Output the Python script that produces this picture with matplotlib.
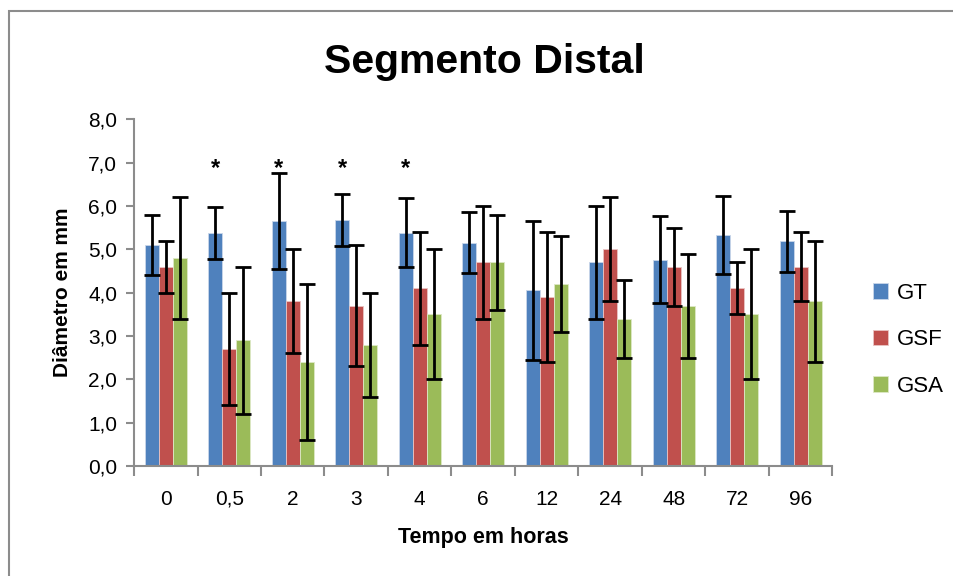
import numpy as np
import matplotlib.pyplot as plt
from matplotlib.patches import Rectangle
from matplotlib.ticker import FuncFormatter

# data
times = ['0', '0,5', '2', '3', '4', '6', '12', '24', '48', '72', '96']
gt = [5.1, 5.37, 5.65, 5.67, 5.38, 5.15, 4.05, 4.7, 4.76, 5.32, 5.18]
gt_err = [0.7, 0.6, 1.1, 0.6, 0.8, 0.7, 1.6, 1.3, 1.0, 0.9, 0.7]
gsf = [4.6, 2.7, 3.8, 3.7, 4.1, 4.7, 3.9, 5.0, 4.6, 4.1, 4.6]
gsf_err = [0.6, 1.3, 1.2, 1.4, 1.3, 1.3, 1.5, 1.2, 0.9, 0.6, 0.8]
gsa = [4.8, 2.9, 2.4, 2.8, 3.5, 4.7, 4.2, 3.4, 3.7, 3.5, 3.8]
gsa_err = [1.4, 1.7, 1.8, 1.2, 1.5, 1.1, 1.1, 0.9, 1.2, 1.5, 1.4]
signif = ['0,5', '2', '3', '4']

plt.rcParams['font.family'] = ['Liberation Sans Narrow', 'Liberation Sans', 'DejaVu Sans']

fig = plt.figure(figsize=(9.54, 5.76), dpi=100)
ax = fig.add_axes([0.1405, 0.191, 0.732, 0.602])

x = np.arange(len(times))
w = 0.22
grey = '#8c8c8c'
ekw = dict(elinewidth=2, capthick=2, capsize=5.5, ecolor='black')
ax.bar(x - w, gt, w, yerr=gt_err, color='#4F81BD', edgecolor='#c9d6ea', linewidth=0.6, label='GT', error_kw=ekw)
ax.bar(x, gsf, w, yerr=gsf_err, color='#C0504D', edgecolor='#e9c4c3', linewidth=0.6, label='GSF', error_kw=ekw)
ax.bar(x + w, gsa, w, yerr=gsa_err, color='#9BBB59', edgecolor='#dde8c6', linewidth=0.6, label='GSA', error_kw=ekw)

for t in signif:
    i = times.index(t)
    ax.text(i - w, 6.72, '*', ha='center', va='baseline', fontsize=17, fontweight='bold')

ax.set_xlim(-0.5, len(times) - 0.5)
ax.set_ylim(0, 8)
ax.set_yticks(np.arange(0, 8.1, 1))
ax.yaxis.set_major_formatter(FuncFormatter(lambda v, p: f'{v:.1f}'.replace('.', ',')))
ax.set_xticks(x)
ax.set_xticklabels(times)
ax.set_xticks(np.arange(-0.5, len(times), 1), minor=True)
ax.tick_params(axis='x', which='major', length=0, pad=17, labelsize=15)
ax.tick_params(axis='x', which='minor', length=7, width=1.5, color=grey)
ax.tick_params(axis='y', length=6, width=1.5, color=grey, labelsize=15, pad=6)

for s in ['top', 'right']:
    ax.spines[s].set_visible(False)
for s in ['left', 'bottom']:
    ax.spines[s].set_color(grey)
    ax.spines[s].set_linewidth(1.5)

ax.set_xlabel('Tempo em horas', fontsize=15.5, fontweight='bold', labelpad=13)
ax.set_ylabel('Diâmetro em mm', fontsize=15, fontweight='bold', labelpad=12)
fig.text(0.508, 0.893, 'Segmento Distal', ha='center', va='center', fontsize=29.5, fontweight='bold')

fig.legend(loc='center left', bbox_to_anchor=(0.894, 0.41), frameon=False, fontsize=16,
           handlelength=0.7, handleheight=0.7, handletextpad=0.4, labelspacing=1.15)

fig.patches.append(Rectangle((9 / 954, -0.05), 1.1, 1 - 11 / 576 + 0.05, transform=fig.transFigure,
                             fill=False, edgecolor=grey, linewidth=1.5))

fig.savefig('out.png', dpi=100)
